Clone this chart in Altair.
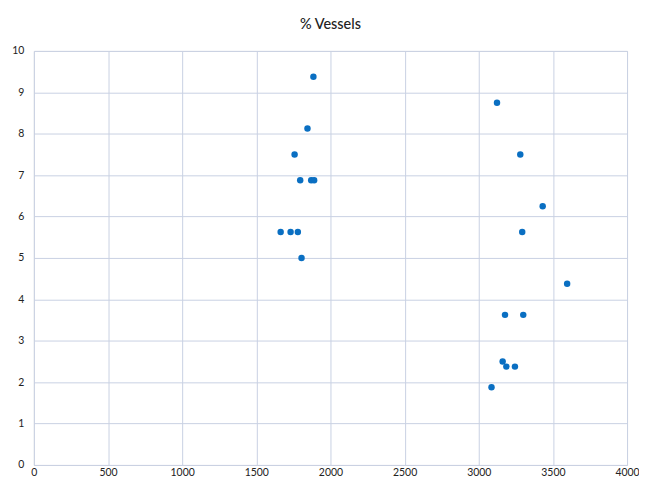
import altair as alt
import pandas as pd

# Data
x_values = [1885, 1845, 1758, 1796, 1870, 1890, 1664, 1731, 1780, 1805,
            3123, 3280, 3431, 3293, 3596, 3177, 3300, 3161, 3186, 3244, 3086]
y_values = [9.375, 8.125, 7.5, 6.875, 6.875, 6.875, 5.625, 5.625, 5.625, 5.0,
            8.75, 7.5, 6.25, 5.625, 4.375, 3.625, 3.625, 2.5, 2.375, 2.375, 1.875]
x_ticks = [0, 500, 1000, 1500, 2000, 2500, 3000, 3500, 4000]
y_ticks = [0, 1, 2, 3, 4, 5, 6, 7, 8, 9, 10]

df = pd.DataFrame({"x": x_values, "y": y_values})

grid_color = "#c9d1e3"
font = "Lato"

chart = alt.Chart(df).mark_circle(size=42, color="#0a6fc2", opacity=1).encode(
    x=alt.X("x:Q", scale=alt.Scale(domain=[0, 4000], nice=False),
            axis=alt.Axis(values=x_ticks, title=None, grid=True, gridColor=grid_color,
                          gridWidth=1, domain=False, ticks=False, labelPadding=3,
                          labelFontSize=10.5, labelColor="#222222", labelFont=font,
                          labelFlush=False, format="d")),
    y=alt.Y("y:Q", scale=alt.Scale(domain=[0, 10], nice=False),
            axis=alt.Axis(values=y_ticks, title=None, grid=True, gridColor=grid_color,
                          gridWidth=1, domain=False, ticks=False, labelPadding=10,
                          labelFontSize=10.5, labelColor="#222222", labelFont=font,
                          labelFlush=False, format="d")),
).properties(
    width=596,
    height=416,
    title=alt.TitleParams("% Vessels", fontSize=14.5, font=font, fontWeight=500,
                          color="#222222", offset=14, anchor="middle"),
    autosize=alt.AutoSizeParams(type="none"),
    padding={"left": 26, "top": 42, "right": 12, "bottom": 11},
).configure_view(
    stroke=grid_color, strokeWidth=1
).configure(background="white")

chart.save("out.html", embed_options={"renderer": "svg", "actions": False})
